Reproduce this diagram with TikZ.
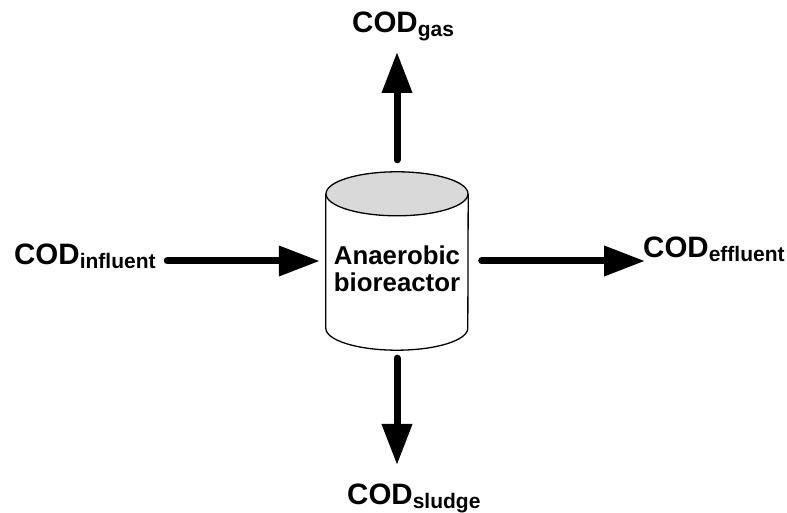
\documentclass[tikz,border=0pt]{standalone}
\usepackage{fontspec}
\setmainfont{Liberation Sans}
\usetikzlibrary{arrows.meta,calc}
\definecolor{lidgray}{RGB}{217,217,217}
\tikzset{flow/.style={line width=7pt,line cap=round,-{Triangle[length=41pt,width=29pt]}}}
\tikzset{stream/.style={anchor=base west,inner sep=0pt}}
\tikzset{reactor/.style={rectangle,minimum width=142pt,minimum height=178pt,inner sep=0pt}}
\tikzset{reactortext/.style={align=center,inner sep=0pt,font=\fontsize{25.8}{26.7}\selectfont\bfseries}}
\tikzset{wall/.style={draw=black,line width=1.3pt,fill=white}}
\tikzset{lid/.style={draw=black,line width=1.3pt,fill=lidgray}}
\newcommand{\cod}[1]{{\fontsize{29.5}{31}\selectfont\bfseries COD}\raisebox{-3.5pt}{\fontsize{21}{23}\selectfont\bfseries #1}}

\begin{document}
\begin{tikzpicture}[x=1pt,y=1pt]
    \useasboundingbox (0,0) rectangle (787,513);

    % reactor
    \node[reactor] (br) at (397,252) {};
    \draw[wall] ($(br.north west)+(0,-22)$) -- ($(br.south west)+(0,22)$)
        arc[start angle=180,end angle=360,x radius=71pt,y radius=22pt]
        -- ($(br.north east)+(0,-22)$);
    \draw[lid] ($(br.north)+(0,-22)$) ellipse[x radius=71pt,y radius=22pt];
    \node[reactortext] (brtext) at (397,244) {Anaerobic\\bioreactor};

    % streams
    \node[stream] (inf) at (14,248)  {\cod{influent}};
    \node[stream] (eff) at (643,255) {\cod{effluent}};
    \node[stream] (gas) at (352,480) {\cod{gas}};
    \node[stream] (sld) at (347,8)   {\cod{sludge}};

    \coordinate (efftip) at (645,252);
    \coordinate (gastip) at (397,461);
    \coordinate (sldtip) at (397,48);

    \draw[flow, shorten <=11.5pt, shorten >=6pt] (inf.east |- br.west) -- (br.west);
    \draw[flow, shorten <=13.5pt] (br.east)  -- (efftip);
    \draw[flow, shorten <=12pt]   (br.north) -- (gastip);
    \draw[flow, shorten <=8pt]    (br.south) -- (sldtip);
\end{tikzpicture}
\end{document}
